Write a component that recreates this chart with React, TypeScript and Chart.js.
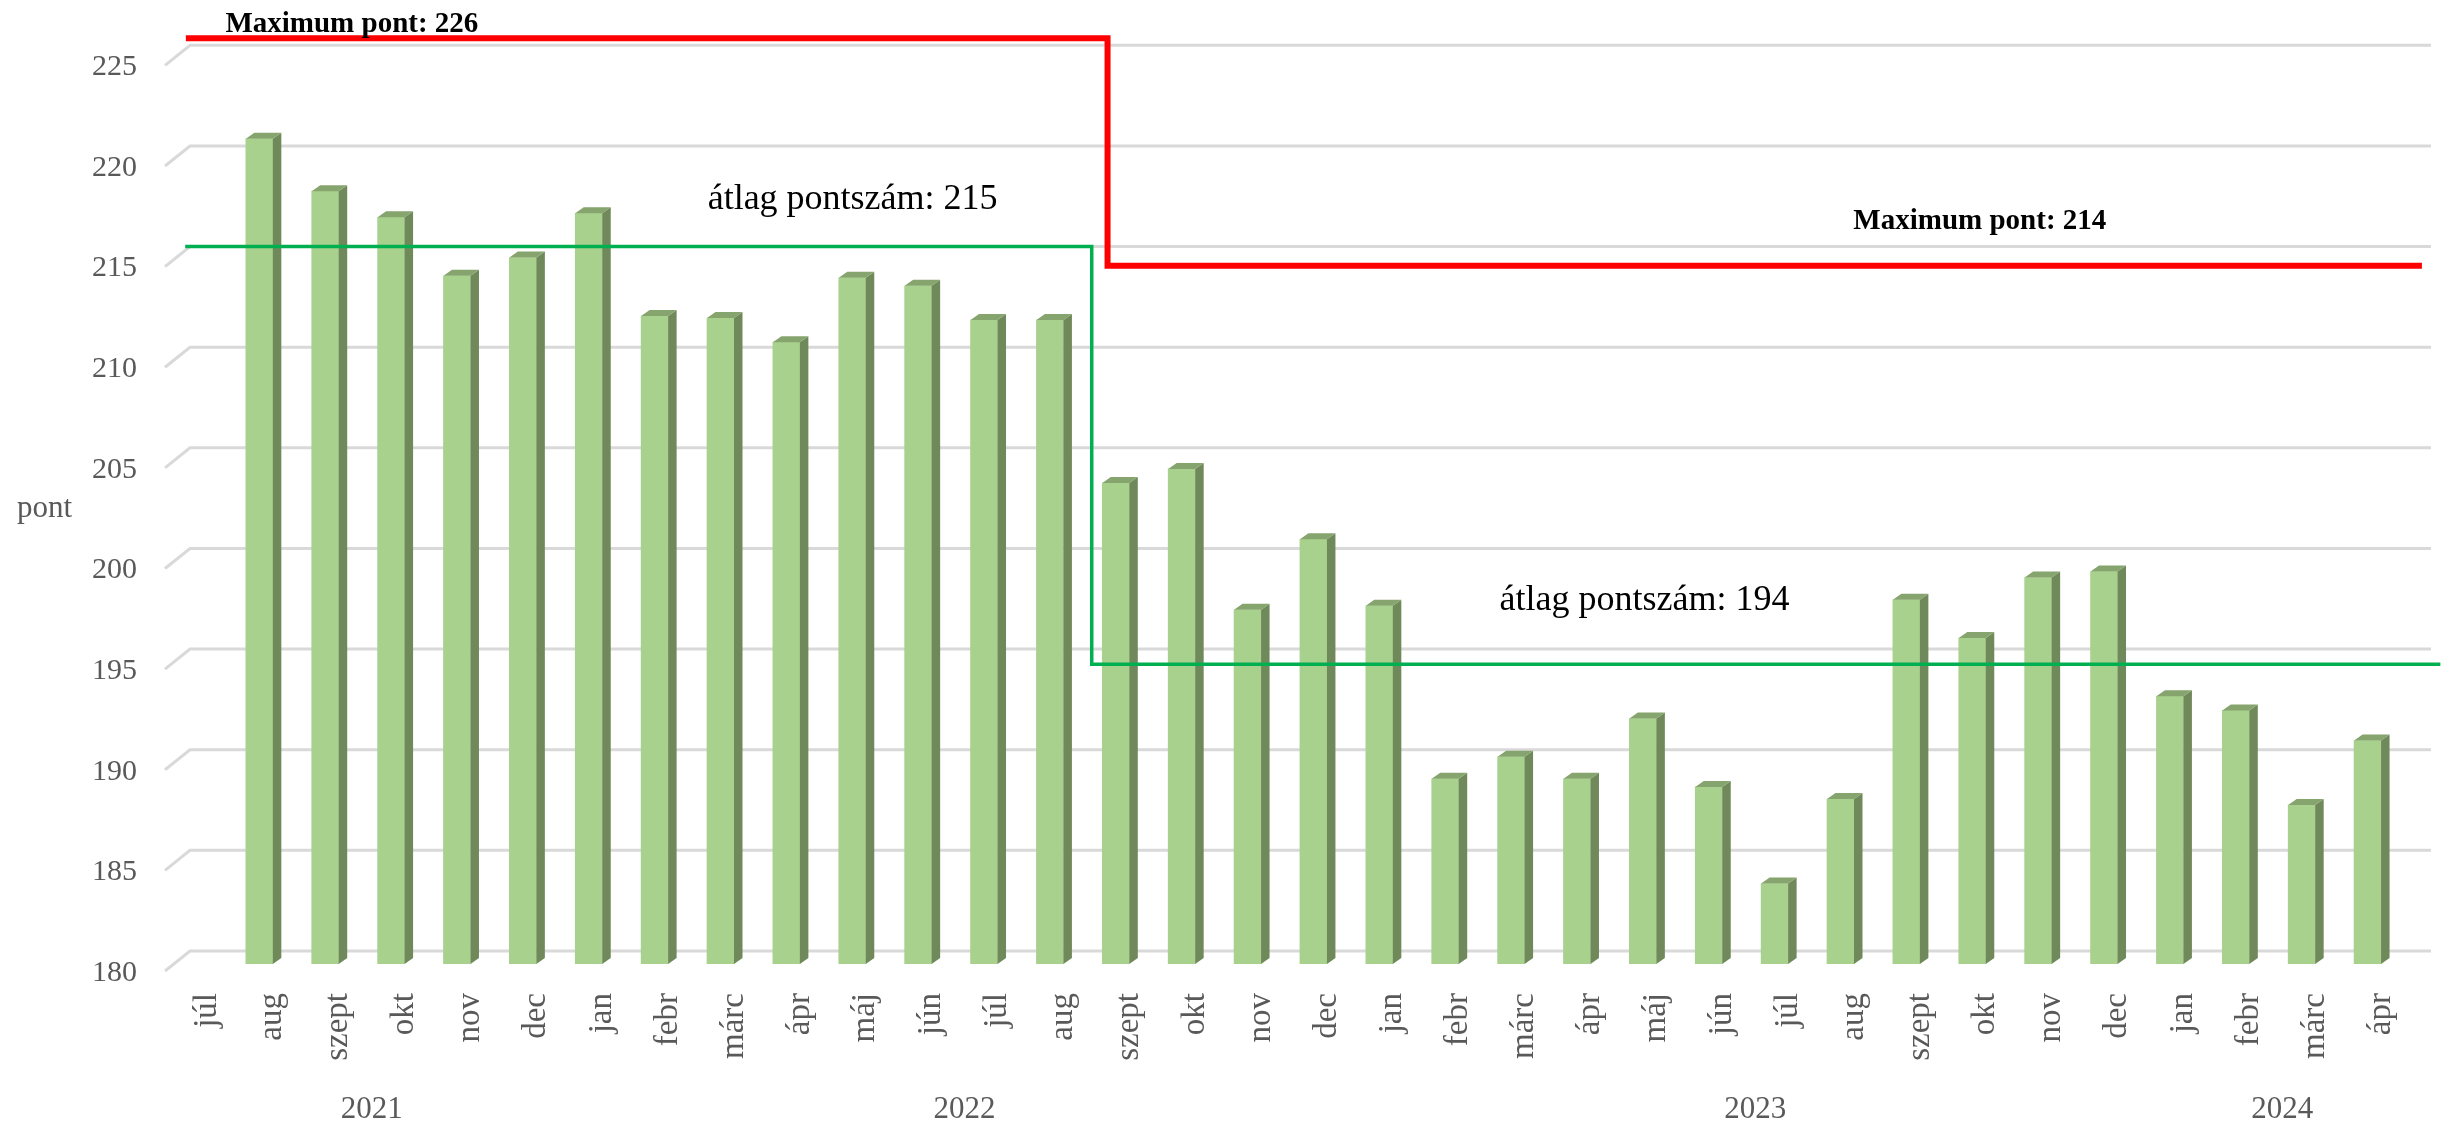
import React, { useEffect, useRef } from 'react';
import { Chart, registerables } from 'chart.js';

Chart.register(...registerables);

// ---------- data ----------
const months = [
  'júl', 'aug', 'szept', 'okt', 'nov', 'dec',
  'jan', 'febr', 'márc', 'ápr', 'máj', 'jún', 'júl', 'aug', 'szept', 'okt', 'nov', 'dec',
  'jan', 'febr', 'márc', 'ápr', 'máj', 'jún', 'júl', 'aug', 'szept', 'okt', 'nov', 'dec',
  'jan', 'febr', 'márc', 'ápr',
];

const scores: (number | null)[] = [
  null, 221.0, 218.4, 217.1, 214.2, 215.1,
  217.3, 212.2, 212.1, 210.9, 214.1, 213.7, 212.0, 212.0, 203.9, 204.6, 197.6, 201.1,
  197.8, 189.2, 190.3, 189.2, 192.2, 188.8, 184.0, 188.2, 198.1, 196.2, 199.2, 199.5,
  193.3, 192.6, 187.9, 191.1,
];

const yTicks = [180, 185, 190, 195, 200, 205, 210, 215, 220, 225];

const years = ['2021', '2022', '2023', '2024'];
const yearFirstIndex = [0, 6, 18, 30];
const yearLastIndex = [5, 17, 29, 33];

// maximum points (step line): levels and x breakpoints (category index units)
const maxPointLevels = [226.0, 214.7];
const maxPointX = [-0.32, 13.67, 33.62];
const maxPointLabels = ['Maximum pont: 226', 'Maximum pont: 214'];

// average scores (step line)
const avgLevels = [215.65, 194.9];
const avgX = [-0.33, 13.43, 33.9];
const avgLabels = ['átlag pontszám: 215', 'átlag pontszám: 194'];

const yAxisTitle = 'pont';

// ---------- layout / style ----------
const W = 2448;
const H = 1125;
const FONT = '"Liberation Serif", "Times New Roman", serif';
const GRAY = '#595959';
const maxLabelAnchors = [[0.28, 226.32], [24.99, 216.53]];
const avgLabelAnchors = [[7.6, 217.52], [19.62, 197.59]];

const stepPoints = (xs: number[], levels: number[]) => [
  { x: xs[0], y: levels[0] },
  { x: xs[1], y: levels[0] },
  { x: xs[1], y: levels[1] },
  { x: xs[2], y: levels[1] },
];

const decoPlugin = {
  id: 'deco',
  beforeDatasetsDraw(chart: any) {
    const { ctx, chartArea, scales } = chart;
    const y = scales.y;
    ctx.save();
    ctx.strokeStyle = '#D9D9D9';
    ctx.lineWidth = 3;
    for (const v of yTicks) {
      const yf = y.getPixelForValue(v);
      const yb = yf - 13;
      ctx.beginPath();
      ctx.moveTo(chartArea.left - 9, yf + 7);
      ctx.lineTo(chartArea.left + 16, yb);
      ctx.lineTo(chartArea.right + 17, yb);
      ctx.stroke();
    }
    ctx.restore();
  },
  afterDatasetDraw(chart: any, args: any) {
    if (args.index !== 0) return;
    const { ctx, chartArea } = chart;
    const meta = chart.getDatasetMeta(0);
    const dx = 8.5;
    const dy = 6;
    ctx.save();
    meta.data.forEach((el: any, i: number) => {
      if (scores[i] == null || !isFinite(el.y)) return;
      const left = el.x - el.width / 2;
      const right = el.x + el.width / 2;
      const top = el.y;
      const base = Math.min(el.base, chartArea.bottom);
      // side face
      ctx.fillStyle = '#70895A';
      ctx.beginPath();
      ctx.moveTo(right, top);
      ctx.lineTo(right + dx, top - dy);
      ctx.lineTo(right + dx, base - dy);
      ctx.lineTo(right, base);
      ctx.closePath();
      ctx.fill();
      // top face
      ctx.fillStyle = '#86A46E';
      ctx.beginPath();
      ctx.moveTo(left, top);
      ctx.lineTo(left + dx, top - dy);
      ctx.lineTo(right + dx, top - dy);
      ctx.lineTo(right, top);
      ctx.closePath();
      ctx.fill();
    });
    ctx.restore();
  },
  afterDraw(chart: any) {
    const { ctx, chartArea, scales } = chart;
    const xl = scales.xl;
    const y = scales.y;
    const x = scales.x;
    ctx.save();
    ctx.textAlign = 'left';
    ctx.textBaseline = 'alphabetic';
    ctx.fillStyle = '#000000';
    ctx.font = `bold 29px ${FONT}`;
    maxPointLabels.forEach((t, i) => {
      const [ax, ay] = maxLabelAnchors[i];
      ctx.fillText(t, xl.getPixelForValue(ax), y.getPixelForValue(ay));
    });
    ctx.font = `36px ${FONT}`;
    avgLabels.forEach((t, i) => {
      const [ax, ay] = avgLabelAnchors[i];
      ctx.fillText(t, xl.getPixelForValue(ax), y.getPixelForValue(ay));
    });
    // y axis title (horizontal)
    ctx.fillStyle = GRAY;
    ctx.font = `31px ${FONT}`;
    ctx.fillText(yAxisTitle, 17, y.getPixelForValue(202.2));
    // year labels
    ctx.textAlign = 'center';
    ctx.font = `31px ${FONT}`;
    const half = (x.getPixelForValue(1) - x.getPixelForValue(0)) / 2;
    years.forEach((yr, i) => {
      const a = x.getPixelForValue(yearFirstIndex[i]) - half;
      const b = x.getPixelForValue(yearLastIndex[i]) + half;
      ctx.fillText(yr, (a + b) / 2, chartArea.bottom + 154);
    });
    ctx.restore();
  },
};

export default function App() {
  const ref = useRef<HTMLCanvasElement | null>(null);

  useEffect(() => {
    if (!ref.current) return;
    const chart = new Chart(ref.current, {
      type: 'bar',
      data: {
        labels: months,
        datasets: [
          {
            type: 'bar',
            label: 'pontszám',
            data: scores as any,
            backgroundColor: '#A9D18E',
            borderWidth: 0,
            barThickness: 27,
            order: 2,
            xAxisID: 'x',
            yAxisID: 'y',
          } as any,
          {
            type: 'line',
            label: 'Maximum pont',
            data: stepPoints(maxPointX, maxPointLevels) as any,
            borderColor: '#FF0000',
            borderWidth: 6,
            pointRadius: 0,
            fill: false,
            tension: 0,
            clip: false,
            order: 1,
            borderJoinStyle: 'miter',
            borderCapStyle: 'butt',
            xAxisID: 'xl',
            yAxisID: 'y',
          } as any,
          {
            type: 'line',
            label: 'átlag pontszám',
            data: stepPoints(avgX, avgLevels) as any,
            borderColor: '#00B050',
            borderWidth: 3.5,
            pointRadius: 0,
            fill: false,
            tension: 0,
            clip: false,
            order: 0,
            borderJoinStyle: 'miter',
            borderCapStyle: 'butt',
            xAxisID: 'xl',
            yAxisID: 'y',
          } as any,
        ],
      },
      options: {
        responsive: false,
        animation: false,
        events: [],
        devicePixelRatio: 1,
        layout: { padding: { left: 0, top: 0, right: 34, bottom: 0 } },
        plugins: {
          legend: { display: false },
          tooltip: { enabled: false },
        },
        scales: {
          x: {
            type: 'category',
            position: 'bottom',
            offset: true,
            grid: { display: false, drawTicks: false },
            border: { display: false },
            ticks: {
              autoSkip: false,
              maxRotation: 90,
              minRotation: 90,
              padding: 29,
              color: GRAY,
              font: { family: FONT, size: 33 },
            },
            afterFit: (s: any) => {
              s.height = 161;
              s.paddingLeft = 0;
              s.paddingRight = 0;
            },
          },
          xl: {
            type: 'linear',
            position: 'bottom',
            min: -0.5,
            max: 33.5,
            offset: false,
            grid: { display: false, drawTicks: false },
            border: { display: false },
            ticks: { display: false },
            afterFit: (s: any) => {
              s.height = 0;
              s.paddingLeft = 0;
              s.paddingRight = 0;
            },
          },
          y: {
            type: 'linear',
            min: 180,
            max: 227.9,
            grid: { display: false, drawTicks: false },
            border: { display: false },
            afterBuildTicks: (s: any) => {
              s.ticks = yTicks.map((v) => ({ value: v }));
            },
            ticks: {
              padding: 37,
              labelOffset: 9,
              color: GRAY,
              font: { family: FONT, size: 30 },
            },
            afterFit: (s: any) => {
              s.width = 174;
              s.paddingTop = 0;
              s.paddingBottom = 0;
            },
          },
        },
      } as any,
      plugins: [decoPlugin],
    });
    return () => chart.destroy();
  }, []);

  return (
    <div style={{ position: 'absolute', left: 0, top: 0, width: W, height: H, background: '#ffffff' }}>
      <canvas ref={ref} width={W} height={H} style={{ display: 'block', width: W, height: H }} />
    </div>
  );
}
